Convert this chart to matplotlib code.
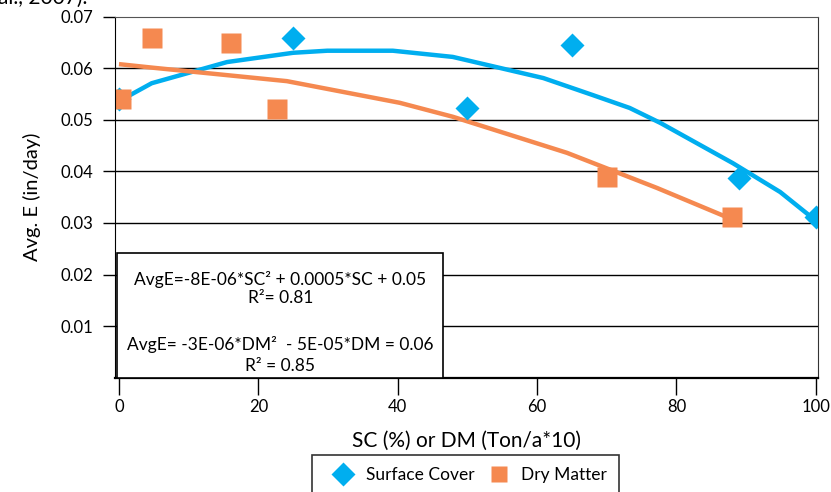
import matplotlib.pyplot as plt
from matplotlib.patches import Rectangle
from matplotlib.lines import Line2D

plt.rcParams['font.family'] = ['Lato', 'DejaVu Sans']

# measured points
sc_x = [0, 25, 50, 65, 89, 100]
sc_y = [0.054, 0.0659, 0.0523, 0.0645, 0.0388, 0.0311]
dm_x = [0.3, 4.7, 16.1, 22.7, 70.1, 88]
dm_y = [0.054, 0.0659, 0.0649, 0.0521, 0.0389, 0.0311]

# trend lines as drawn in the original
sc_fit_x = [0, 1.6, 4.7, 15.5, 25, 29.9, 39.3, 47.9, 60.9, 68, 73.3, 77.7, 88.1, 94.9, 99.6]
sc_fit_y = [0.0535, 0.0548, 0.0571, 0.0612, 0.0630, 0.0634, 0.0634, 0.0622, 0.0581,
            0.0548, 0.0523, 0.0494, 0.0416, 0.0360, 0.0309]
dm_fit_x = [0, 4.9, 24.1, 40.3, 47.9, 64.3, 77.2, 87.3]
dm_fit_y = [0.0608, 0.0601, 0.0575, 0.0533, 0.0506, 0.0436, 0.0368, 0.0311]

yticks = [0.01, 0.02, 0.03, 0.04, 0.05, 0.06, 0.07]
xticks = [0, 20, 40, 60, 80, 100]

blue = '#00AEEF'
orange = '#F58950'

fig = plt.figure(figsize=(8.31, 4.92), dpi=100)
ax = fig.add_axes([0.1384, 0.2323, 0.8460, 0.7338])

for y in yticks[:-1]:
    ax.axhline(y, color='black', lw=1.0, zorder=1)

ax.plot(sc_fit_x, sc_fit_y, color=blue, lw=3.2, zorder=3, solid_capstyle='butt')
ax.plot(dm_fit_x, dm_fit_y, color=orange, lw=3.2, zorder=3, solid_capstyle='butt')
ax.plot(sc_x, sc_y, 'D', color=blue, ms=12, mec='none', zorder=4)
ax.plot(dm_x, dm_y, 's', color=orange, ms=15, mec='none', zorder=5)

ax.set_xlim(-0.57, 100.33)
ax.set_ylim(0, 0.07)
ax.set_xticks(xticks)
ax.set_yticks(yticks)
ax.set_yticklabels([f'{v:.2f}' for v in yticks])
ax.tick_params(axis='y', direction='out', length=8.6, width=1.0, pad=7, labelsize=12)
ax.tick_params(axis='x', direction='out', length=12, width=1.0, pad=3, labelsize=12)

ax.spines['top'].set_color('#555555')
ax.spines['right'].set_color('#333333')
ax.spines['left'].set_color('black')
ax.spines['bottom'].set_color('black')
ax.spines['bottom'].set_linewidth(1.6)
for s in ax.spines.values():
    s.set_zorder(6)

# equation box
ax.add_patch(Rectangle((0.003, 0.0), 0.4636, 0.345, transform=ax.transAxes,
                       facecolor='white', edgecolor='black', lw=1.2, zorder=7))
eq_lines = ['AvgE=-8E-06*SC² + 0.0005*SC + 0.05', 'R²= 0.81',
            'AvgE= -3E-06*DM²  - 5E-05*DM = 0.06', 'R² = 0.85']
eq_pos = [0.273, 0.221, 0.093, 0.033]
for txt, yp in zip(eq_lines, eq_pos):
    ax.text(0.235, yp, txt, transform=ax.transAxes, ha='center', va='center',
            fontsize=12.5, zorder=8)

ax.set_xlabel('SC (%) or DM (Ton/a*10)', fontsize=15, labelpad=12)
ax.set_ylabel('Avg. E (in/day)', fontsize=14.5, labelpad=14)

handles = [Line2D([], [], marker='D', ls='none', color=blue, ms=12.5, mec='none'),
           Line2D([], [], marker='s', ls='none', color=orange, ms=11.5, mec='none')]
leg = fig.legend(handles, ['Surface Cover', 'Dry Matter'], loc='upper left',
                 bbox_to_anchor=(312 / 831, 1 - 455 / 492), borderaxespad=0,
                 ncol=2, fontsize=12.5, frameon=True, fancybox=False, edgecolor='black',
                 handletextpad=0.2, columnspacing=0.3, borderpad=0.7, handlelength=2.2)
leg.get_frame().set_linewidth(1.2)

fig.text(-0.002, 1 - 4 / 492, 'al., 2007).', fontsize=15, va='baseline', ha='left')

fig.savefig('out.png', dpi=100)
